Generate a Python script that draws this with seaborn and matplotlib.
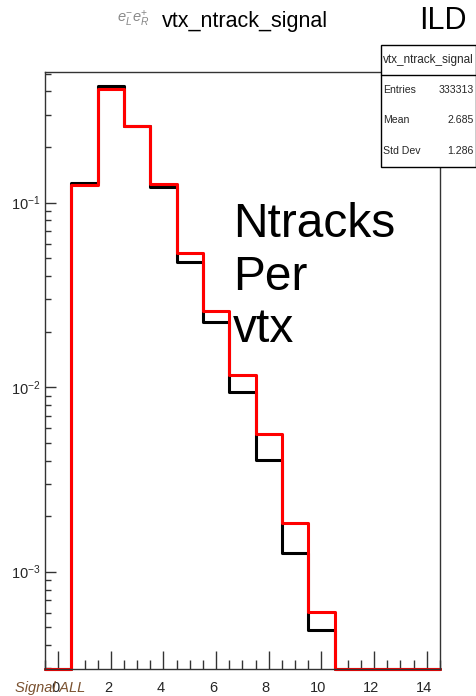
import numpy as np
import pandas as pd
import matplotlib
matplotlib.use("Agg")
import matplotlib.pyplot as plt
import seaborn as sns
from matplotlib.patches import Rectangle
from matplotlib.lines import Line2D
from matplotlib.transforms import ScaledTranslation
from matplotlib.ticker import MultipleLocator, LogLocator, NullFormatter

# ---- data ----
ntracks = list(range(0, 15))
frac_black = [0, 0.128, 0.428, 0.261, 0.122, 0.0476, 0.0225, 0.00946, 0.00401,
              0.00126, 0.000481, 0, 0, 0, 0]
frac_red = [0, 0.125, 0.413, 0.261, 0.126, 0.053, 0.0257, 0.01164, 0.00558,
            0.00183, 0.000605, 0, 0, 0, 0]
xticks = [0, 2, 4, 6, 8, 10, 12, 14]
yticks = [1e-3, 1e-2, 1e-1]
ytick_labels = [r"$10^{-3}$", r"$10^{-2}$", r"$10^{-1}$"]
stats_names = ["Entries", "Mean", "Std Dev"]
stats_values = ["333313", "2.685", "1.286"]

sns.set_theme(style="white")
plt.rcParams["font.family"] = ["Liberation Sans", "DejaVu Sans"]
plt.rcParams["mathtext.fontset"] = "custom"
plt.rcParams["mathtext.rm"] = "Liberation Sans"
plt.rcParams["mathtext.it"] = "Liberation Sans:italic"

W, H = 477, 696
YMIN, YMAX = 2.97e-4, 0.51
fig = plt.figure(figsize=(W / 100, H / 100), dpi=100)
ax = fig.add_axes([45 / W, 1 - 669 / H, (440 - 45) / W, (669 - 72) / H])

df = pd.DataFrame({"n": ntracks, "black": frac_black, "red": frac_red})

ax.set_yscale("log")
sns.histplot(data=df, x="n", weights="black", discrete=True, binrange=(0, 14),
             element="step", fill=False, color="black", linewidth=2.2, ax=ax)
sns.histplot(data=df, x="n", weights="red", discrete=True, binrange=(0, 14),
             element="step", fill=False, color="#ff0000", linewidth=2.2, ax=ax)

# empty bins are drawn along the bottom of the frame, as ROOT does
for ln in ax.lines:
    ln.set_ydata(np.maximum(np.asarray(ln.get_ydata(), dtype=float), YMIN))
    ln.set_clip_on(False)

ax.set_xlim(-0.5, 14.5)
ax.set_ylim(YMIN, YMAX)
ax.set_xlabel("")
ax.set_ylabel("")

ax.set_xticks(xticks)
ax.set_xticklabels([str(t) for t in xticks], fontsize=10.5)
ax.xaxis.set_minor_locator(MultipleLocator(0.5))
ax.set_yticks(yticks)
ax.set_yticklabels(ytick_labels, fontsize=10.5)
ax.yaxis.set_minor_locator(LogLocator(base=10, subs=np.arange(2, 10)))
ax.yaxis.set_minor_formatter(NullFormatter())

ax.tick_params(axis="x", which="major", direction="in", length=13, width=1,
               color="#333333", pad=9, bottom=True)
ax.tick_params(axis="x", which="minor", direction="in", length=6.5, width=1,
               color="#333333", bottom=True)
ax.tick_params(axis="y", which="major", direction="in", length=8, width=1,
               color="#333333", pad=3, left=True)
ax.tick_params(axis="y", which="minor", direction="in", length=4.2, width=1,
               color="#333333", left=True)
shift = ScaledTranslation(-3 / 100, 0, fig.dpi_scale_trans)
for lab in ax.get_xticklabels():
    lab.set_transform(lab.get_transform() + shift)
for s in ax.spines.values():
    s.set_visible(True)
    s.set_color("#333333")
    s.set_linewidth(1.0)
ax.grid(False)

def fx(px):
    return px / W

def fy(py):
    return 1 - py / H

# Title
fig.text(fx(245), fy(21), "vtx_ntrack_signal", fontsize=15.5, ha="center",
         va="center", color="black")
fig.text(fx(133), fy(19), r"$e^{-}_{L}e^{+}_{R}$", fontsize=10.5, ha="center",
         va="center", color="#888888")
fig.text(fx(443), fy(21), "ILD", fontsize=22, ha="center", va="center",
         color="black")

# Stats box
x0, x1, y0, y1, ysep = 381, 476, 45, 167, 75
fig.add_artist(Rectangle((fx(x0), fy(y1)), fx(x1 - x0), (y1 - y0) / H,
                         transform=fig.transFigure, facecolor="white",
                         edgecolor="black", linewidth=1.0, zorder=5))
fig.add_artist(Line2D([fx(x0), fx(x1)], [fy(ysep), fy(ysep)],
                      transform=fig.transFigure, color="black", lw=1.0,
                      zorder=6))
fig.text(fx(383), fy(60), "vtx_ntrack_signal", fontsize=8.5, ha="left",
         va="center", zorder=7)
row_y = [90, 120, 151]
for name, val, yy in zip(stats_names, stats_values, row_y):
    fig.text(fx(383), fy(yy), name, fontsize=7.6, ha="left", va="center",
             zorder=7)
    fig.text(fx(474), fy(yy), val, fontsize=7.6, ha="right", va="center",
             zorder=7)

# Big annotation
fig.text(fx(233), fy(202), "Ntracks\nPer\nvtx", fontsize=34.5, ha="left",
         va="top", linespacing=1.22, color="black")

# Signal label
fig.text(fx(15), fy(688), "Signal ALL", fontsize=10.5, style="italic",
         ha="left", va="center", color="#7b5230")

fig.savefig("out.png", dpi=100)
